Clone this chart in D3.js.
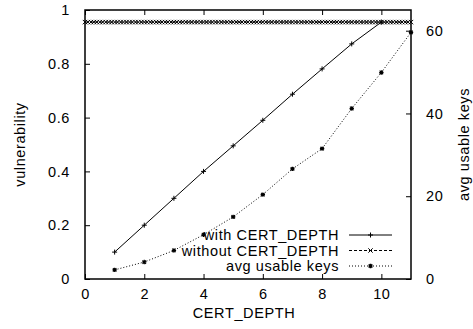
<!DOCTYPE html>
<html>
<head>
<meta charset="utf-8">
<script src="https://cdn.jsdelivr.net/npm/d3@7"></script>
<style>
	body { margin: 0; background: #fff; }
	text { font-family: "Liberation Sans", Arial, sans-serif; font-size: 14.5px; letter-spacing: 0.6px; fill: #000; }
</style>
</head>
<body>
<div id="chart"></div>
<script>
// data
var depths = [1, 2, 3, 4, 5, 6, 7, 8, 9, 10]
var withDepth = [0.10, 0.20, 0.30, 0.40, 0.495, 0.59, 0.687, 0.781, 0.874, 0.955]

// "without" is sampled every 0.1 from 0 to 11
var withoutX = d3.range(111).map(function(i) { return i / 10 })
var withoutDepth = [
	0.955, 0.955, 0.955, 0.955, 0.955, 0.955, 0.955, 0.955, 0.955, 0.955, 0.955,
	0.955, 0.955, 0.955, 0.955, 0.955, 0.955, 0.955, 0.955, 0.955, 0.955, 0.955,
	0.955, 0.955, 0.955, 0.955, 0.955, 0.955, 0.955, 0.955, 0.955, 0.955, 0.955,
	0.955, 0.955, 0.955, 0.955, 0.955, 0.955, 0.955, 0.955, 0.955, 0.955, 0.955,
	0.955, 0.955, 0.955, 0.955, 0.955, 0.955, 0.955, 0.955, 0.955, 0.955, 0.955,
	0.955, 0.955, 0.955, 0.955, 0.955, 0.955, 0.955, 0.955, 0.955, 0.955, 0.955,
	0.955, 0.955, 0.955, 0.955, 0.955, 0.955, 0.955, 0.955, 0.955, 0.955, 0.955,
	0.955, 0.955, 0.955, 0.955, 0.955, 0.955, 0.955, 0.955, 0.955, 0.955, 0.955,
	0.955, 0.955, 0.955, 0.955, 0.955, 0.955, 0.955, 0.955, 0.955, 0.955, 0.955,
	0.955, 0.955, 0.955, 0.955, 0.955, 0.955, 0.955, 0.955, 0.955, 0.955, 0.955,
	0.955
]

var keyDepths = [1, 2, 3, 4, 5, 6, 7, 8, 9, 10, 11]
var avgKeys = [2.2, 4.1, 6.9, 10.7, 15.0, 20.4, 26.6, 31.5, 41.2, 49.9, 59.6]

var xTicks = [0, 2, 4, 6, 8, 10]
var yTicks = [0, 0.2, 0.4, 0.6, 0.8, 1]
var y2Ticks = [0, 20, 40, 60]

var legendNames = ['with CERT_DEPTH', 'without CERT_DEPTH', 'avg usable keys']

;(function() {
	var width = 473
	var height = 329
	var left = 85, right = 411, top = 10, bottom = 279
	var tickLen = 5

	var svg = d3.select('#chart').append('svg')
		.attr('width', width)
		.attr('height', height)

	var x = d3.scaleLinear().domain([0, 11]).range([left, right])
	var y = d3.scaleLinear().domain([0, 1]).range([bottom, top])
	var y2 = d3.scaleLinear().domain([0, 65]).range([bottom, top])

	// little marker helpers (gnuplot point types 1, 2, 3)
	function plus(s) {
		return 'M' + (-s) + ',0H' + s + 'M0,' + (-s) + 'V' + s
	}
	function cross(s) {
		return 'M' + (-s) + ',' + (-s) + 'L' + s + ',' + s + 'M' + (-s) + ',' + s + 'L' + s + ',' + (-s)
	}
	function star(s) {
		return plus(s) + cross(s * 0.8)
	}

	var styles = [
		{ dash: null, marker: plus(2.5), w: 1 },
		{ dash: '3,2', marker: cross(2.2), w: 1 },
		{ dash: '1,2', marker: star(2.2), w: 1.1 }
	]

	// axes, ticks pointing inwards
	svg.append('g')
		.attr('transform', 'translate(0,' + bottom + ')')
		.call(d3.axisBottom(x).tickValues(xTicks).tickSizeInner(-tickLen).tickSizeOuter(0).tickPadding(10))
	svg.append('g')
		.attr('transform', 'translate(0,' + top + ')')
		.call(d3.axisTop(x).tickValues(xTicks).tickSizeInner(-tickLen).tickSizeOuter(0).tickFormat(''))
	svg.append('g')
		.attr('transform', 'translate(' + left + ',0)')
		.call(d3.axisLeft(y).tickValues(yTicks).tickSizeInner(-tickLen).tickSizeOuter(0).tickPadding(15)
			.tickFormat(function(d) { return d3.format('')(+d.toFixed(1)) }))
	svg.append('g')
		.attr('transform', 'translate(' + right + ',0)')
		.call(d3.axisRight(y2).tickValues(y2Ticks).tickSizeInner(-tickLen).tickSizeOuter(0).tickPadding(15))

	svg.selectAll('.domain').remove()
	svg.selectAll('.tick line').attr('stroke', '#000')
	svg.selectAll('.tick text').style('font-size', null).attr('font-size', null).attr('font-family', null).attr('fill', '#000')

	svg.append('rect')
		.attr('x', left).attr('y', top)
		.attr('width', right - left).attr('height', bottom - top)
		.attr('fill', 'none').attr('stroke', '#000').attr('stroke-width', 1.5)

	// axis titles
	svg.append('text')
		.attr('text-anchor', 'middle')
		.attr('transform', 'translate(25,' + (top + bottom) / 2 + ') rotate(-90)')
		.text('vulnerability')
	svg.append('text')
		.attr('text-anchor', 'middle')
		.attr('transform', 'translate(469,' + (top + bottom) / 2 + ') rotate(-90)')
		.text('avg usable keys')
	svg.append('text')
		.attr('text-anchor', 'middle')
		.attr('x', (left + right) / 2 - 4)
		.attr('y', 318)
		.text('CERT_DEPTH')

	var series = [
		{ xs: depths, ys: withDepth, scale: y },
		{ xs: withoutX, ys: withoutDepth, scale: y },
		{ xs: keyDepths, ys: avgKeys, scale: y2 }
	]

	series.forEach(function(s, k) {
		var pts = s.xs.map(function(d, i) { return [x(d), s.scale(s.ys[i])] })
		svg.append('path')
			.attr('d', d3.line()(pts))
			.attr('fill', 'none')
			.attr('stroke', '#000')
			.attr('stroke-width', 1)
			.attr('stroke-dasharray', styles[k].dash)
		svg.append('g').selectAll('path')
			.data(pts)
			.enter().append('path')
				.attr('transform', function(p) { return 'translate(' + p[0] + ',' + p[1] + ')' })
				.attr('d', styles[k].marker)
				.attr('fill', 'none')
				.attr('stroke', '#000')
				.attr('stroke-width', styles[k].w)
	})

	// legend
	var legend = svg.append('g')
		.selectAll('g')
		.data(legendNames)
		.enter().append('g')
			.attr('transform', function(d, i) { return 'translate(0,' + (235 + i * 15.5) + ')' })

	legend.append('text')
		.attr('x', 339)
		.attr('dy', '0.35em')
		.attr('text-anchor', 'end')
		.text(function(d) { return d })
	legend.append('line')
		.attr('x1', 349).attr('x2', 392)
		.attr('stroke', '#000')
		.attr('stroke-dasharray', function(d, i) { return styles[i].dash })
	legend.append('path')
		.attr('transform', 'translate(370.5,0)')
		.attr('d', function(d, i) { return styles[i].marker })
		.attr('fill', 'none')
		.attr('stroke', '#000')
		.attr('stroke-width', function(d, i) { return styles[i].w })
})()
</script>
</body>
</html>
